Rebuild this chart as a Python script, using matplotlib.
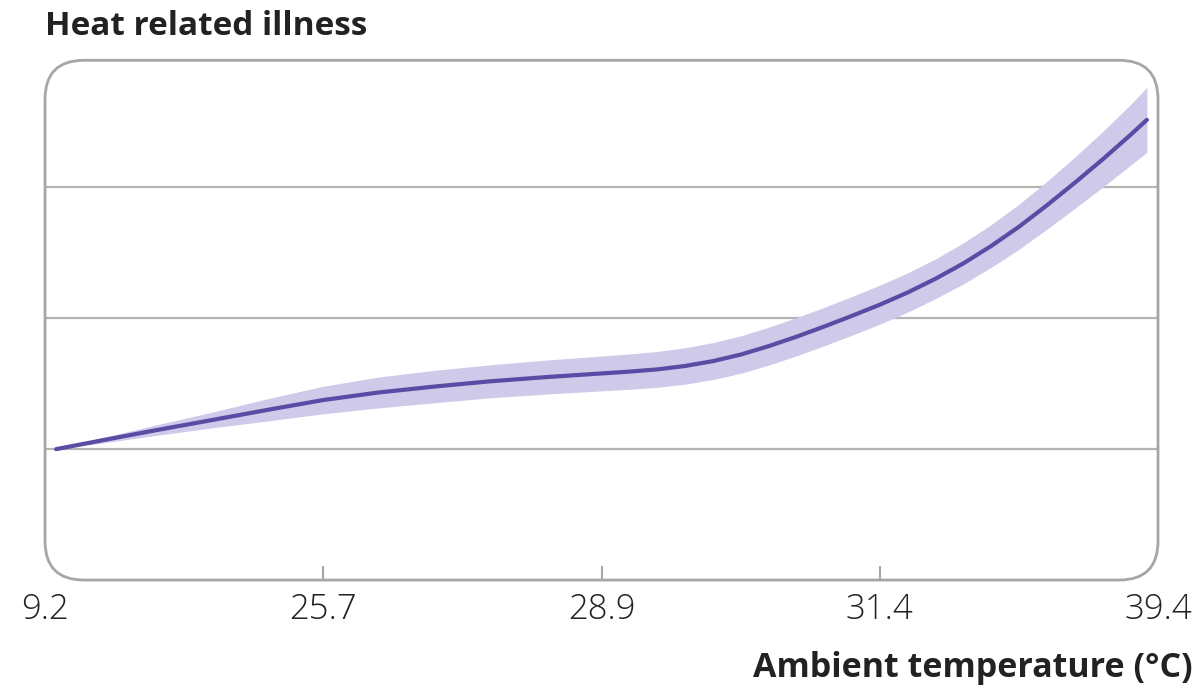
import numpy as np
import matplotlib.pyplot as plt
from matplotlib.patches import FancyBboxPatch

# position along temperature distribution (percentile) and relative risk
pct = [1, 5, 10, 15, 20, 25, 30, 35, 40, 45, 50, 52.5, 55, 57.5, 60, 62.5, 65, 67.5,
       70, 72.5, 75, 77.5, 80, 82.5, 85, 87.5, 90, 92.5, 95, 97.5, 99]
rr = [1.00, 1.065, 1.145, 1.222, 1.300, 1.375, 1.433, 1.478, 1.518, 1.550, 1.578,
      1.592, 1.609, 1.635, 1.672, 1.722, 1.786, 1.858, 1.936, 2.018, 2.103, 2.196,
      2.301, 2.418, 2.551, 2.698, 2.861, 3.033, 3.211, 3.398, 3.515]
rr_upper = [1.00, 1.085, 1.185, 1.282, 1.385, 1.480, 1.551, 1.602, 1.644, 1.680, 1.711,
            1.727, 1.746, 1.774, 1.813, 1.865, 1.931, 2.004, 2.083, 2.166, 2.252, 2.346,
            2.453, 2.575, 2.714, 2.870, 3.044, 3.229, 3.423, 3.630, 3.763]
rr_lower = [1.00, 1.045, 1.105, 1.162, 1.215, 1.270, 1.315, 1.354, 1.392, 1.420, 1.445,
            1.457, 1.472, 1.496, 1.531, 1.579, 1.641, 1.712, 1.789, 1.870, 1.954, 2.046,
            2.149, 2.261, 2.388, 2.526, 2.678, 2.837, 2.999, 3.166, 3.267]

tick_pos = [0, 25, 50, 75, 100]
tick_labels = ['9.2', '25.7', '28.9', '31.4', '39.4']
grid_levels = [1, 2, 3]

line_col = '#5a4ca4'
band_col = '#cfcaea'
frame_col = '#a6a6a6'

fig = plt.figure(figsize=(12.01, 6.93), dpi=100)
ax = fig.add_axes([0.0375, 0.163, 0.9267, 0.750])
ax.set_xlim(0, 100)
ax.set_ylim(0, 3.97)

for g in grid_levels:
    ax.axhline(g, color='#b4b4b4', linewidth=1.6, zorder=1)

ax.fill_between(pct, rr_lower, rr_upper, color=band_col, linewidth=0, zorder=2)
ax.plot(pct, rr, color=line_col, linewidth=3.0, solid_capstyle='round',
        solid_joinstyle='round', zorder=3)

for s in ax.spines.values():
    s.set_visible(False)

# rounded frame around plot area
frame = FancyBboxPatch((0, 0), 1, 1, boxstyle='round,pad=0,rounding_size=0.035',
                       transform=ax.transAxes, facecolor='none', edgecolor=frame_col,
                       linewidth=2.0, clip_on=False, zorder=4,
                       mutation_aspect=1113 / 520)
ax.add_patch(frame)

ax.set_yticks([])
ax.set_xticks(tick_pos)
ax.set_xticklabels(tick_labels, fontsize=25, color='#222222', family='Open Sans',
                   fontweight='light')
ax.tick_params(axis='x', direction='in', length=10, width=1.5, color=frame_col, pad=9)
for t in ax.xaxis.get_major_ticks()[::4]:
    t.tick1line.set_visible(False)

fig.text(0.0375, 0.962, 'Heat related illness', fontsize=24, fontweight='bold',
         family='Open Sans', color='#222222', va='center', ha='left')
fig.text(0.993, 0.036, 'Ambient temperature (°C)', fontsize=24.5, fontweight='bold',
         family='Open Sans', color='#222222', va='center', ha='right')

fig.savefig('out.png', dpi=100, facecolor='white')
